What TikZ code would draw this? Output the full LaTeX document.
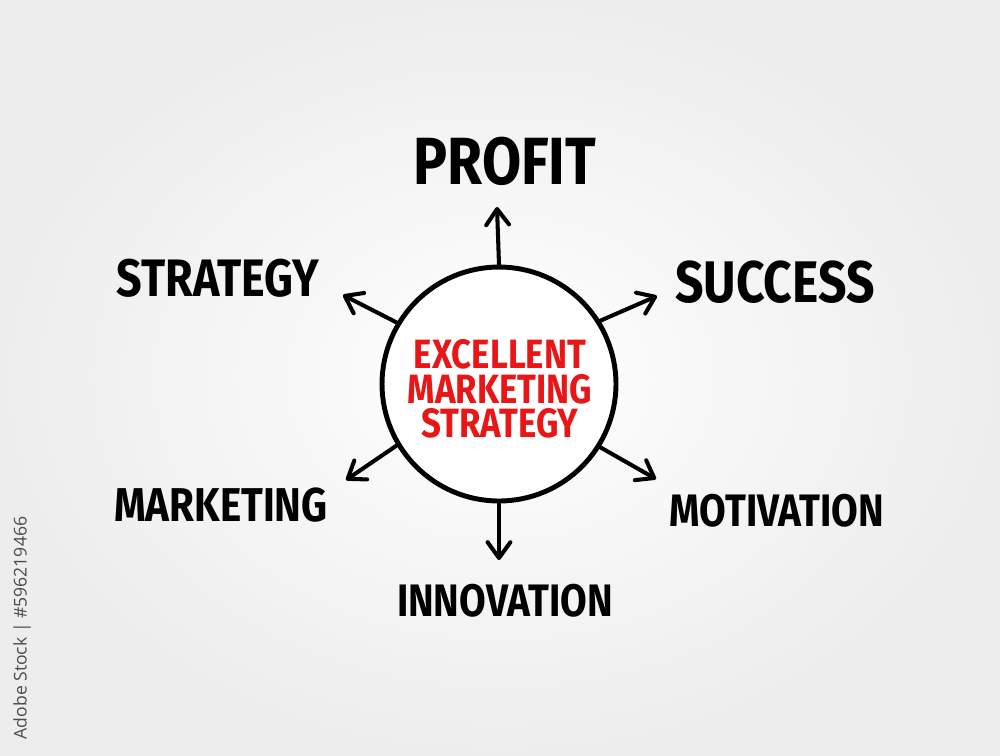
\documentclass[tikz,border=0pt]{standalone}
\usepackage{fontspec}
\setmainfont{Fira Sans}
\newfontfamily\marker{Fira Sans}[FakeStretch=0.85]
\newfontfamily\stockfont{Open Sans}
\usetikzlibrary{arrows.meta}
\definecolor{markred}{RGB}{232,22,22}
\definecolor{stockgray}{RGB}{75,75,75}

\begin{document}
\begin{tikzpicture}[x=0.02cm,y=-0.02cm,
  >={Straight Barb[length=9pt,width=13pt,round]},
  spoke/.style={->,line width=2.3pt,line cap=round},
  hub/.style={circle,draw,line width=2.8pt,fill=white,minimum size=4.68cm,inner sep=0pt},
  word/.style={inner sep=0pt,font=\marker\bfseries\fontsize{#1}{#1}\selectfont}]

  % backdrop
  \shade[inner color=white,outer color=black!7] (0,0) rectangle (1000,755);
  \useasboundingbox (0,0) rectangle (1000,755);

  \node[hub] (ems) at (499,384) {};
  \node[align=center,text=markred,font=\marker\bfseries\fontsize{23.3}{19.6}\selectfont]
    (emstext) at (500,389) {EXCELLENT\\MARKETING\\STRATEGY};

  % arrow ends
  \coordinate (up)   at (497,207);
  \coordinate (ul)   at (343,295);
  \coordinate (ur)   at (657,296);
  \coordinate (dl)   at (346,480);
  \coordinate (dr)   at (656,479);
  \coordinate (down) at (499,560);

  \path[spoke] (ems.90)  edge (up)
               (ems.149) edge (ul)
               (ems.32)  edge (ur)
               (ems.211) edge (dl)
               (ems.328) edge (dr)
               (ems.270) edge (down);

  \node[word=38]   (profit)     at (505,161) {PROFIT};
  \node[word=30]   (strategy)   at (218,278) {STRATEGY};
  \node[word=33.4] (success)    at (775,282) {SUCCESS};
  \node[word=27]   (marketing)  at (221,505) {MARKETING};
  \node[word=25.9] (motivation) at (777,511) {MOTIVATION};
  \node[word=25.9] (innovation) at (505,601) {INNOVATION};

  \node[rotate=90,text=stockgray,font=\stockfont\fontsize{10}{10}\selectfont]
    (stockid) at (22,628) {Adobe Stock | \#596219466};
\end{tikzpicture}
\end{document}
